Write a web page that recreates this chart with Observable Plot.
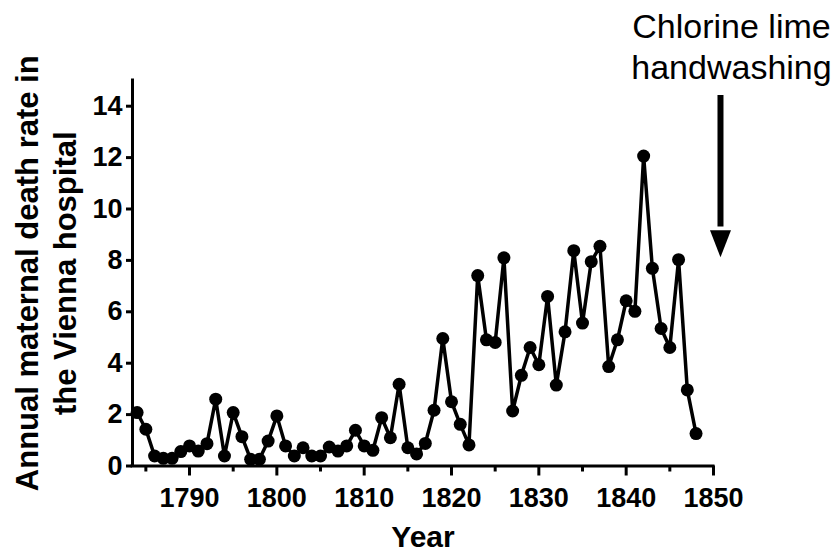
<!DOCTYPE html>
<html>
<head>
<meta charset="utf-8">
<script src="https://cdn.jsdelivr.net/npm/d3@7"></script>
<script src="https://cdn.jsdelivr.net/npm/@observablehq/plot@0.6"></script>
<style>
  html, body { margin: 0; padding: 0; background: #fff; }
  #chart svg { display: block; }
</style>
</head>
<body>
<div id="chart"></div>
<script>
const years = [1784,1785,1786,1787,1788,1789,1790,1791,1792,1793,1794,1795,1796,1797,1798,1799,
  1800,1801,1802,1803,1804,1805,1806,1807,1808,1809,1810,1811,1812,1813,1814,1815,1816,1817,1818,1819,
  1820,1821,1822,1823,1824,1825,1826,1827,1828,1829,1830,1831,1832,1833,1834,1835,1836,1837,1838,1839,
  1840,1841,1842,1843,1844,1845,1846,1847,1848];
const deathRate = [2.08,1.43,0.39,0.30,0.30,0.56,0.78,0.58,0.87,2.60,0.39,2.08,1.14,0.26,0.26,0.97,
  1.95,0.78,0.39,0.71,0.39,0.39,0.74,0.58,0.78,1.39,0.78,0.61,1.88,1.10,3.18,0.71,0.47,0.88,2.17,4.96,
  2.50,1.62,0.82,7.41,4.91,4.81,8.10,2.14,3.53,4.61,3.94,6.60,3.15,5.22,8.38,5.56,7.95,8.55,3.87,4.91,
  6.43,6.02,12.06,7.69,5.35,4.61,8.03,2.96,1.26];

const xDomain = [1783.47, 1850];
const yDomain = [0, 15];
const xMajorTicks = [1790, 1800, 1810, 1820, 1830, 1840, 1850];
const xMinorTicks = [1785, 1795, 1805, 1815, 1825, 1835, 1845];
const yTicks = [0, 2, 4, 6, 8, 10, 12, 14];

const yLabel = "Annual maternal death rate in\nthe Vienna hospital";
const xLabel = "Year";
const annotationText = "Chlorine lime\nhandwashing";
const arrowYear = [1850.8];
const arrowFrom = [14.42];
const arrowShaftEnd = [9.3];
const arrowTip = [8.12];

const data = years.map((y, i) => ({year: y, rate: deathRate[i]}));

const headSymbol = {
  draw(context, size) {
    context.moveTo(-10.5, -27);
    context.lineTo(10.5, -27);
    context.lineTo(0, 0);
    context.closePath();
  }
};

const font = "'Liberation Sans', Arial, Helvetica, sans-serif";

const chart = Plot.plot({
  width: 838,
  height: 556,
  marginLeft: 132,
  marginRight: 125,
  marginTop: 80,
  marginBottom: 90.5,
  style: {fontFamily: font, color: "black", background: "white", overflow: "visible"},
  x: {domain: xDomain, label: null},
  y: {domain: yDomain, label: null},
  marks: [
    Plot.axisY({ticks: yTicks, tickSize: 6, tickPadding: 4, fontSize: 27, fontWeight: "bold",
      strokeWidth: 3, label: null, tickFormat: d => String(d)}),
    Plot.axisX({ticks: xMinorTicks, tickSize: 6, strokeWidth: 3, label: null, tickFormat: () => ""}),
    Plot.axisX({ticks: xMajorTicks, tickSize: 10, tickPadding: 12, fontSize: 27, fontWeight: "bold",
      strokeWidth: 3, label: null, tickFormat: d => String(d)}),
    Plot.ruleY([yDomain[0]], {stroke: "black", strokeWidth: 3, strokeLinecap: "square"}),
    Plot.ruleX([xDomain[0]], {stroke: "black", strokeWidth: 3, strokeLinecap: "square"}),
    Plot.line(data, {x: "year", y: "rate", stroke: "black", strokeWidth: 3.5}),
    Plot.dot(data, {x: "year", y: "rate", r: 6.5, fill: "black", stroke: "none"}),
    Plot.ruleX(arrowYear, {x: d => d, y1: () => arrowFrom[0], y2: () => arrowShaftEnd[0], stroke: "black", strokeWidth: 6}),
    Plot.dot(arrowYear, {x: d => d, y: () => arrowTip[0], symbol: headSymbol, r: 5, fill: "black", stroke: "none"}),
    Plot.text([annotationText], {x: () => arrowYear[0], frameAnchor: "top", text: d => d, lineAnchor: "bottom",
      dx: 11, dy: -2, fontSize: 34, lineHeight: 1.2, fill: "black", textAnchor: "middle"}),
    Plot.text([yLabel], {frameAnchor: "left", text: d => d, rotate: -90, dx: -88, fontSize: 31,
      fontWeight: "bold", lineHeight: 1.23, fill: "black", textAnchor: "middle"}),
    Plot.text([xLabel], {frameAnchor: "bottom", text: d => d, dy: 81, lineAnchor: "bottom", fontSize: 30,
      fontWeight: "bold", fill: "black", textAnchor: "middle"})
  ]
});

document.getElementById("chart").appendChild(chart);
</script>
</body>
</html>
